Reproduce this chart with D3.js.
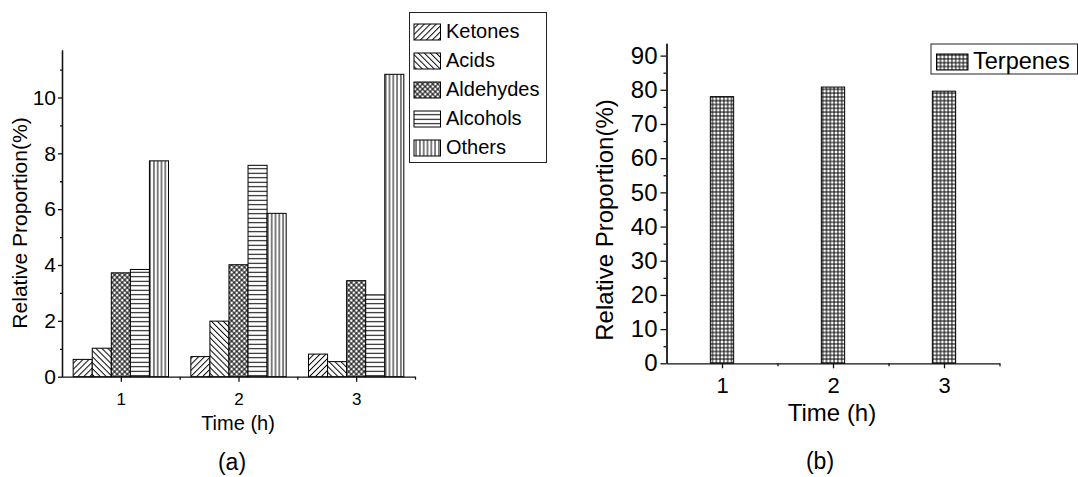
<!DOCTYPE html>
<meta charset='utf-8'>
<head>
    <title>Relative Proportion</title>
    <script src='https://cdn.jsdelivr.net/npm/d3@7/dist/d3.min.js'></script>
</head>

<style>
    body { margin: 0; background: white; }
    text { font-family: 'Liberation Sans', Arial, sans-serif; fill: #000; }
    .axis path, .axis line { stroke: #111; stroke-width: 1.3px; }
    .bar { stroke: #000; stroke-width: 1px; }
</style>

<svg width="1078" height="477"></svg>

<script>
    // ---- data, panel (a)
    var timesA = [1, 2, 3];
    var seriesA = ['Ketones', 'Acids', 'Aldehydes', 'Alcohols', 'Others'];
    var ketones = [0.62, 0.72, 0.81];
    var acids = [1.02, 1.99, 0.54];
    var aldehydes = [3.72, 4.01, 3.44];
    var alcohols = [3.84, 7.57, 2.93];
    var others = [7.73, 5.85, 10.83];
    var yTicksA = [0, 2, 4, 6, 8, 10];
    var yMinorA = [1, 3, 5, 7, 9, 11];

    // ---- data, panel (b)
    var timesB = [1, 2, 3];
    var seriesB = ['Terpenes'];
    var terpenes = [78.0, 80.8, 79.6];
    var yTicksB = [0, 10, 20, 30, 40, 50, 60, 70, 80, 90];
    var yMinorB = [5, 15, 25, 35, 45, 55, 65, 75, 85];

    var xMinor = [1.5, 2.5, 3.5];
    var valuesA = [ketones, acids, aldehydes, alcohols, others];

    var svg = d3.select('svg');

    // hatch patterns
    var defs = svg.append('defs');
    function linePattern(id, size, angle, lines, sw) {
        var p = defs.append('pattern').attr('id', id)
            .attr('patternUnits', 'userSpaceOnUse')
            .attr('width', size).attr('height', size)
            .attr('patternTransform', 'rotate(' + angle + ')');
        p.append('rect').attr('width', size).attr('height', size).attr('fill', 'white');
        lines.forEach(function (l) {
            p.append('line')
                .attr('x1', l === 'v' ? size / 2 : 0).attr('x2', l === 'v' ? size / 2 : size)
                .attr('y1', l === 'v' ? 0 : size / 2).attr('y2', l === 'v' ? size : size / 2)
                .attr('stroke', '#000').attr('stroke-width', sw);
        });
    }
    linePattern('p-Ketones', 4.2, 45, ['v'], 1);
    linePattern('p-Acids', 4.2, -45, ['v'], 1);
    linePattern('p-Aldehydes', 3.6, 45, ['v', 'h'], 1);
    linePattern('p-Alcohols', 4.5, 0, ['h'], 1);
    linePattern('p-Others', 3.8, 0, ['v'], 1);
    linePattern('p-Terpenes', 3.8, 0, ['v', 'h'], 1);

    // ---- panel (a)
    var xA = d3.scaleLinear().domain([0.5, 3.5]).range([62, 415]);
    var yA = d3.scaleLinear().domain([0, 11.7]).range([376.7, 50]);
    var groupW = xA(0.81) - xA(0);
    var xSub = d3.scaleBand().domain(seriesA).range([-groupW / 2, groupW / 2]);

    var gA = svg.append('g');

    seriesA.forEach(function (s, si) {
        gA.selectAll('.bar-' + s).data(valuesA[si]).enter().append('rect')
            .attr('class', 'bar')
            .attr('x', function (d, i) { return xA(timesA[i]) + xSub(s); })
            .attr('width', xSub.bandwidth())
            .attr('y', function (d) { return yA(d); })
            .attr('height', function (d) { return yA(0) - yA(d); })
            .attr('fill', 'url(#p-' + s + ')');
    });

    gA.append('g').attr('class', 'axis')
        .attr('transform', 'translate(' + xA.range()[0] + ',0)')
        .call(d3.axisLeft(yA).tickValues(yTicksA).tickSize(4).tickPadding(2).tickSizeOuter(0))
        .selectAll('text').style('font-size', '21px');
    gA.append('g').attr('class', 'axis')
        .attr('transform', 'translate(' + xA.range()[0] + ',0)')
        .call(d3.axisLeft(yA).tickValues(yMinorA).tickSize(2).tickFormat('').tickSizeOuter(0));

    gA.append('g').attr('class', 'axis')
        .attr('transform', 'translate(0,' + yA(0) + ')')
        .call(d3.axisBottom(xA).tickValues(timesA).tickSize(5).tickPadding(11).tickSizeOuter(0).tickFormat(d3.format('d')))
        .selectAll('text').style('font-size', '17px');
    gA.append('g').attr('class', 'axis')
        .attr('transform', 'translate(0,' + yA(0) + ')')
        .call(d3.axisBottom(xA).tickValues(xMinor).tickSize(3).tickFormat('').tickSizeOuter(0))
        .select('.domain').remove();

    gA.append('text').attr('transform', 'translate(27,223) rotate(-90)')
        .attr('text-anchor', 'middle').style('font-size', '21px')
        .text('Relative Proportion(%)');
    gA.append('text').attr('x', 238).attr('y', 429.5)
        .attr('text-anchor', 'middle').style('font-size', '20px').text('Time (h)');
    gA.append('text').attr('x', 232).attr('y', 470)
        .attr('text-anchor', 'middle').style('font-size', '23px').text('(a)');

    // legend (a)
    var legA = gA.append('g');
    legA.append('rect').attr('x', 409.5).attr('y', 12.5).attr('width', 137).attr('height', 150)
        .attr('fill', 'white').attr('stroke', '#222').attr('stroke-width', 1);
    seriesA.forEach(function (s, i) {
        legA.append('rect').attr('class', 'bar')
            .attr('x', 414).attr('y', 24 + 29 * i).attr('width', 26.5).attr('height', 16)
            .attr('fill', 'url(#p-' + s + ')');
        legA.append('text').attr('x', 446).attr('y', 37.5 + 29 * i)
            .style('font-size', '20px').text(s);
    });

    // ---- panel (b)
    var xB = d3.scaleLinear().domain([0.5, 3.5]).range([666.5, 999.5]);
    var yB = d3.scaleLinear().domain([0, 93.6]).range([363.3, 43.3]);
    var barW = xB(0.21) - xB(0);

    var gB = svg.append('g');

    gB.selectAll('.bar-t').data(terpenes).enter().append('rect')
        .attr('class', 'bar')
        .attr('x', function (d, i) { return xB(timesB[i]) - barW / 2; })
        .attr('width', barW)
        .attr('y', function (d) { return yB(d); })
        .attr('height', function (d) { return yB(0) - yB(d); })
        .attr('fill', 'url(#p-Terpenes)');

    gB.append('g').attr('class', 'axis')
        .attr('transform', 'translate(' + xB.range()[0] + ',0)')
        .call(d3.axisLeft(yB).tickValues(yTicksB).tickSize(6).tickPadding(3).tickSizeOuter(0))
        .selectAll('text').style('font-size', '24px');
    gB.append('g').attr('class', 'axis')
        .attr('transform', 'translate(' + xB.range()[0] + ',0)')
        .call(d3.axisLeft(yB).tickValues(yMinorB).tickSize(3).tickFormat('').tickSizeOuter(0));

    gB.append('g').attr('class', 'axis')
        .attr('transform', 'translate(0,' + yB(0) + ')')
        .call(d3.axisBottom(xB).tickValues(timesB).tickSize(5).tickPadding(9).tickSizeOuter(0).tickFormat(d3.format('d')))
        .selectAll('text').style('font-size', '22px');
    gB.append('g').attr('class', 'axis')
        .attr('transform', 'translate(0,' + yB(0) + ')')
        .call(d3.axisBottom(xB).tickValues(xMinor).tickSize(3).tickFormat('').tickSizeOuter(0))
        .select('.domain').remove();

    gB.append('text').attr('transform', 'translate(613,220) rotate(-90)')
        .attr('text-anchor', 'middle').style('font-size', '24px')
        .text('Relative Proportion(%)');
    gB.append('text').attr('x', 832).attr('y', 420.5)
        .attr('text-anchor', 'middle').style('font-size', '24px').text('Time (h)');
    gB.append('text').attr('x', 820).attr('y', 469)
        .attr('text-anchor', 'middle').style('font-size', '23px').text('(b)');

    // legend (b)
    var legB = gB.append('g');
    legB.append('rect').attr('x', 931).attr('y', 44).attr('width', 146.5).attr('height', 30)
        .attr('fill', 'white').attr('stroke', '#222').attr('stroke-width', 1);
    seriesB.forEach(function (s, i) {
        legB.append('rect').attr('class', 'bar')
            .attr('x', 936.5).attr('y', 54).attr('width', 31.5).attr('height', 16)
            .attr('fill', 'url(#p-' + s + ')');
        legB.append('text').attr('x', 973).attr('y', 68.5)
            .style('font-size', '23.5px').text(s);
    });
</script>
